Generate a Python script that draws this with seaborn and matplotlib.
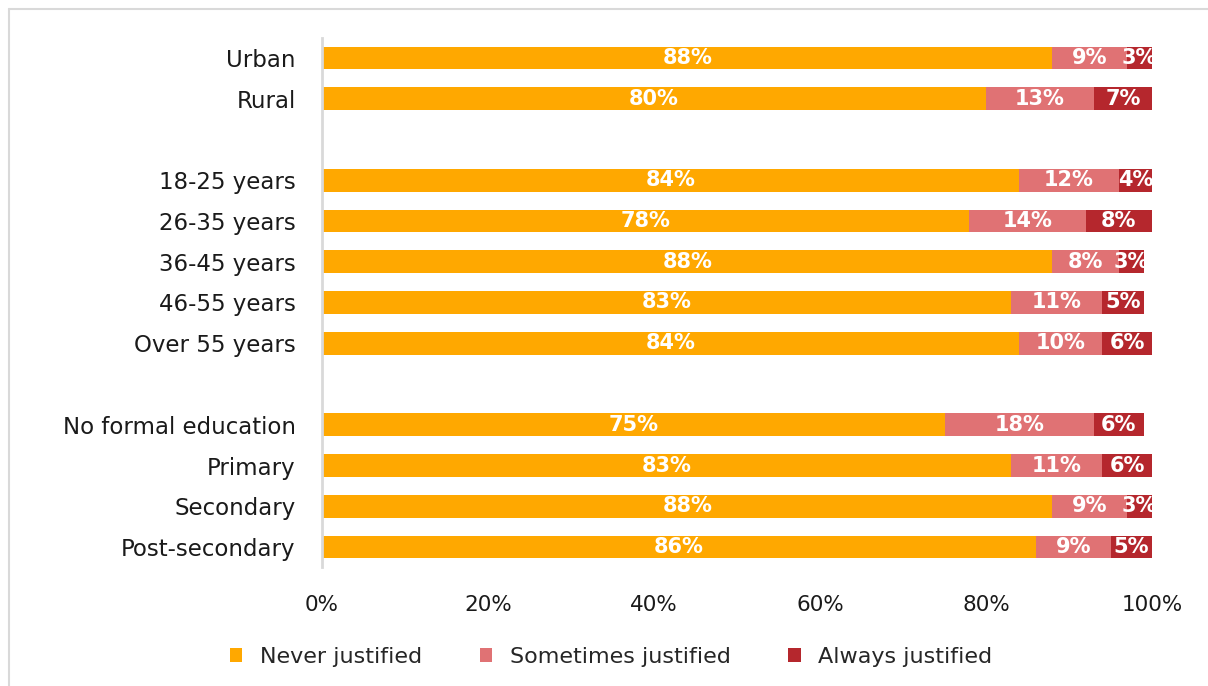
import matplotlib
matplotlib.use("Agg")
import matplotlib.pyplot as plt
from matplotlib.patches import Patch
from matplotlib.lines import Line2D
import seaborn as sns
import pandas as pd

categories = ["Urban", "Rural", "18-25 years", "26-35 years", "36-45 years",
              "46-55 years", "Over 55 years", "No formal education", "Primary",
              "Secondary", "Post-secondary"]
never = [88, 80, 84, 78, 88, 83, 84, 75, 83, 88, 86]
sometimes = [9, 13, 12, 14, 8, 11, 10, 18, 11, 9, 9]
always = [3, 7, 4, 8, 3, 5, 6, 6, 6, 3, 5]
series_names = ["Never justified", "Sometimes justified", "Always justified"]
x_ticks = [0, 20, 40, 60, 80, 100]

colors = ["#FFA800", "#E07274", "#B5272D"]

# category order with empty slots separating the three groups
order = ["Urban", "Rural", " ",
         "18-25 years", "26-35 years", "36-45 years", "46-55 years", "Over 55 years", "  ",
         "No formal education", "Primary", "Secondary", "Post-secondary"]

df = pd.DataFrame({"cat": categories, "never": never,
                   "sometimes": sometimes, "always": always})
df["c1"] = df["never"]
df["c2"] = df["never"] + df["sometimes"]
df["c3"] = df["c2"] + df["always"]

sns.set_theme(style="white")
plt.rcParams["font.family"] = ["DejaVu Sans"]

fig = plt.figure(figsize=(12.08, 6.86), dpi=100)
ax = fig.add_axes([322 / 1208, 1 - 567 / 686, 830 / 1208, (567 - 38) / 686])

# stacked bars drawn as overlapping cumulative totals
for col, color in zip(["c3", "c2", "c1"], colors[::-1]):
    sns.barplot(data=df, x=col, y="cat", order=order, orient="h",
                color=color, width=0.56, saturation=1, ax=ax, linewidth=0)

pos = {c: order.index(c) for c in categories}
for _, r in df.iterrows():
    y = pos[r["cat"]]
    starts = [0, r["c1"], r["c2"]]
    vals = [r["never"], r["sometimes"], r["always"]]
    for s, v in zip(starts, vals):
        ax.text(s + v / 2, y, f"{v}%", ha="center", va="center",
                color="white", fontsize=15, fontweight="bold")

ax.set_xlim(0, 100)
ax.set_ylim(len(order) - 0.51, -0.49)
ax.set_xticks(x_ticks)
ax.set_xticklabels([f"{t}%" for t in x_ticks], fontsize=15.5, color="#1a1a1a")
ax.tick_params(axis="y", labelsize=16.5, labelcolor="#1a1a1a", length=0, pad=19)
ax.tick_params(axis="x", length=0, pad=20)
ax.set_xlabel("")
ax.set_ylabel("")
for side in ["top", "right", "bottom"]:
    ax.spines[side].set_visible(False)
ax.spines["left"].set_color("#D9D9D9")
ax.spines["left"].set_linewidth(2)

# legend
handles = [Patch(facecolor=c, edgecolor="none") for c in colors]
fig.legend(handles, series_names, loc="center", bbox_to_anchor=(0.506, 1 - 657 / 686),
           ncol=3, frameon=False, fontsize=16, handlelength=0.55, handleheight=0.55,
           columnspacing=2.6, handletextpad=0.8)

# outer frame lines
fig.add_artist(Line2D([9 / 1208, 9 / 1208], [0, 1 - 9 / 686], transform=fig.transFigure,
                      color="#D9D9D9", linewidth=1.5))
fig.add_artist(Line2D([9 / 1208, 1], [1 - 9 / 686, 1 - 9 / 686], transform=fig.transFigure,
                      color="#D9D9D9", linewidth=1.5))

fig.savefig("out.png", dpi=100)
